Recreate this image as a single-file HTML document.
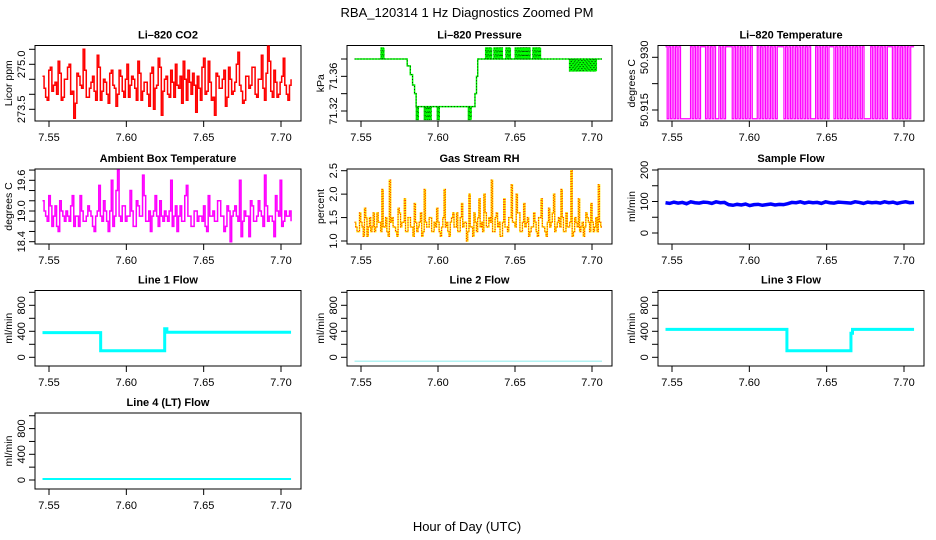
<!DOCTYPE html>
<html><head><meta charset="utf-8"><style>
html,body{margin:0;padding:0;background:#fff;}
svg{display:block;font-family:"Liberation Sans",sans-serif;}
</style></head><body>
<svg id="chart" width="936" height="540" viewBox="0 0 936 540">
<rect width="936" height="540" fill="#fff"/>
<text x="467" y="17" font-size="13" text-anchor="middle">RBA_120314  1 Hz Diagnostics Zoomed PM</text>
<text x="467" y="531" font-size="13" text-anchor="middle">Hour of Day (UTC)</text>
</svg>
<script>
// ---- data ----
const timeRange = [7.5458, 7.7065];
const xTicks = [7.55, 7.60, 7.65, 7.70];
const xTickLabels = ["7.55", "7.60", "7.65", "7.70"];

const co2ValuesA = [274.6,273.9,274.8,274.1,274.4,275.1,273.8,274.5,274.9,274.0,273.2,274.7,274.3,275.5,273.9,274.2,274.6,273.8,274.9,274.1,274.4,273.7,274.8,274.2,274.0,274.6,273.9,275.0,274.3,274.5,273.8,274.7,274.1,274.4,273.6,274.9,274.2,275.2,273.3,274.5,274.0,274.8,273.9,274.3,274.6,275.1,273.8,274.4,274.7,273.4,274.2,274.9,274.0,275.1,273.8,273.3,274.6,274.2,274.8,273.9,274.5,274.1,275.0,274.3,273.7,274.6,274.2,274.9,274.0,274.5,275.3,273.8,275.6,274.1,274.8,273.9,274.4,275.2,274.0,274.3];
const co2ValuesB = [274.2,273.8,274.9,274.3,274.0,274.7,273.9,274.5,275.0,274.1,273.7,274.6,274.2,274.8,273.9,274.4,274.1,275.3,273.8,274.5,274.0,274.7,274.3,273.6,274.8,274.1,274.5,273.9,274.6,274.2,275.1,273.8,274.4,274.0,274.7,273.5,274.3,274.9,274.1,274.6,273.9,274.4,275.0,274.2,273.7,274.5,274.8,274.0,274.3,274.6,273.8,275.2,274.1,274.4,273.9,274.7,274.2,274.5,273.6,274.9,274.0,274.4,275.4,274.1,273.8,274.6,274.3,274.9,273.9,274.5,274.2,274.7,275.1,273.9,274.4,274.0,274.6,274.3,273.8,274.5];

const pressureTimes = [7.5458,7.5800,7.5820,7.5835,7.5848,7.5858,7.6225,7.6240,7.6250,7.6258,7.7065];
const pressureValues = [71.38,71.372,71.362,71.35,71.34,71.325,71.325,71.34,71.36,71.38,71.38];
const pressureBlipStart = [7.5629,7.5858,7.5910,7.5994,7.6196,7.6308,7.6362,7.6440,7.6500,7.6615,7.6853];
const pressureBlipEnd   = [7.5651,7.5875,7.5960,7.6013,7.6218,7.6350,7.6420,7.6475,7.6600,7.6672,7.7033];
const pressureBlipLevel = [71.393,71.31,71.31,71.31,71.31,71.393,71.393,71.393,71.393,71.393,71.366];

const tempLevels = [50.9125, 50.933];
const tempState = [1,0,1,0,1,0,1,0,1,0,0,0,0,0,0,1,0,1,0,1,0,1,1,1,0,1,0,1,0,1,0,0,1,0,1,0,1,1,1,1,0,1,0,1,0,1,0,1,0,1,0,1,0,0,0,1,0,1,0,1,0,1,0,1,0,1,0,1,1,1,1,0,1,0,1,0,1,0,1,0,1,0,1,0,1,0,1,0,0,0,1,0,1,0,1,0,1,0,1,1,1,0,1,0,1,0,1,0,1,0,1,0,1,0,1,0,1,0,1,0,0,0,0,1,0,1,0,1,0,1,0,1,0,1,1,1,0,1,0,1,0,1,0,1,0,1,0,1,1,1];

const ambientValuesA = [19.2,18.9,19.3,18.7,19.1,18.6,19.0,18.8,18.9,19.1,18.7,18.9,19.3,18.8,18.9,19.0,18.7,18.9,19.5,18.8,19.0,18.6,19.6,18.9,19.8,18.8,19.1,18.9,19.4,18.7,19.2,18.9,19.7,18.8,19.0,18.9,19.3,18.7,18.9,19.0,18.8,19.6,18.9,18.6,19.1,18.8,19.5,18.9,18.7,19.0,18.9,18.8,18.7,19.3,18.9,18.8,19.2,18.9,18.6,19.1,18.4,19.0,18.9,19.6,18.8,18.9,18.5,19.1,18.8,19.2,18.9,19.7,18.8,18.9,18.5,19.0,19.6,18.8,18.9,19.0];
const ambientValuesB = [19.0,18.8,19.1,18.9,18.7,19.2,18.9,19.0,18.8,19.3,18.9,18.7,19.0,18.8,19.1,18.9,18.6,19.0,18.9,19.2,18.8,19.0,18.7,19.4,18.9,19.1,18.8,18.9,19.0,18.7,19.1,18.9,19.3,18.8,18.6,19.0,18.9,19.2,18.8,18.9,19.0,18.7,19.1,18.9,18.8,19.3,18.9,18.7,19.0,18.8,18.9,19.1,18.6,18.9,19.0,18.8,19.2,18.9,18.7,19.0,18.9,19.1,18.8,18.5,19.0,18.9,19.2,18.8,18.9,19.0,18.7,19.1,18.9,18.8,19.3,18.9,18.7,19.0,18.9,18.8];

const rhValuesA = [1.4,1.2,1.6,1.3,1.7,1.1,1.5,1.3,1.2,1.6,1.4,2.1,1.3,1.2,2.3,1.5,1.3,1.1,1.6,1.4,1.9,1.2,1.5,1.3,1.8,1.2,1.4,1.1,2.1,1.3,1.5,1.2,1.4,1.7,1.2,1.3,2.1,1.4,1.1,1.5,1.3,1.6,1.2,1.8,1.4,1.0,2.0,1.3,1.6,1.2,1.9,1.4,2.0,1.3,1.5,2.3,1.2,1.6,1.4,1.1,1.9,1.3,1.5,2.2,1.4,2.0,1.6,1.2,1.8,1.4,1.1,1.3,1.6,1.2,1.5,1.9,1.3,1.1,1.7,1.4,2.0,1.3,1.5,2.1,1.2,1.6,1.3,2.5,1.2,1.4,1.9,1.3,1.1,1.6,1.4,1.8,1.2,1.5,2.2,1.3];
const rhValuesB = [1.3,1.2,1.4,1.1,1.5,1.3,1.2,1.6,1.3,1.4,1.2,1.3,1.5,1.1,1.4,1.3,1.2,1.7,1.3,1.4,1.2,1.5,1.3,1.1,1.4,1.3,1.6,1.2,1.4,1.3,1.5,1.2,1.3,1.4,1.1,1.5,1.3,1.2,1.4,1.6,1.3,1.2,1.5,1.3,1.4,1.2,1.3,1.1,1.4,1.5,1.3,1.2,1.6,1.3,1.4,1.2,1.5,1.3,1.1,1.4,1.3,1.2,1.5,1.4,1.3,1.6,1.2,1.4,1.3,1.5,1.2,1.3,1.4,1.1,1.5,1.3,1.2,1.4,1.3,1.6,1.2,1.4,1.3,1.5,1.2,1.3,1.4,1.1,1.5,1.3,1.2,1.4,1.3,1.5,1.2,1.4,1.3,1.2,1.4,1.3];

const sampleFlowValues = [96,94,98,95,97,93,99,96,95,98,97,94,99,96,97,90,88,91,89,92,87,90,91,88,90,92,89,91,90,93,97,96,99,95,98,96,97,94,99,96,95,98,97,96,95,99,97,94,98,96,97,95,99,96,98,94,97,99,96,97];

const line1Times = [7.5458,7.5834,7.5834,7.6248,7.6248,7.6262,7.6262,7.7065];
const line1Values = [380,380,100,100,440,440,385,385];
const line2Times = [7.5458,7.7065];
const line2Values = [-60,-60];
const line3Times = [7.5458,7.6243,7.6243,7.6657,7.6657,7.6667,7.6667,7.7065];
const line3Values = [430,430,100,100,370,370,430,430];
const line4Times = [7.5458,7.7065];
const line4Values = [15,15];

function interleave(a,b){const r=[];for(let i=0;i<a.length;i++){r.push(a[i]);if(i<b.length)r.push(b[i]);}return r;}
const co2Values = interleave(co2ValuesA, co2ValuesB);
const ambientValues = interleave(ambientValuesA, ambientValuesB);
const rhValues = interleave(rhValuesA, rhValuesB);

// ---- layout ----
const svg = document.getElementById('chart');
const NS = 'http://www.w3.org/2000/svg';
const cols = [[35,301],[347,612],[658,924]];
const rows = [[45.5,121],[169,244],[290.5,366],[413,489]];
function mk(tag, attrs, parent){const e=document.createElementNS(NS,tag);for(const k in attrs)e.setAttribute(k,attrs[k]);(parent||svg).appendChild(e);return e;}
function xScale(col){const x55=col[0]+14;const k=(col[1]-20-x55)/0.15;return t=>x55+(t-7.55)*k;}
function yScale(v1,p1,v2,p2){return v=>p1+(v-v1)*(p2-p1)/(v2-v1);}
function evenTimes(n){const a=[];for(let i=0;i<n;i++)a.push(timeRange[0]+(timeRange[1]-timeRange[0])*i/(n-1));return a;}

function panel(name,title,ylab,ci,ri,ys,yt,ylabels){
  const col=cols[ci],row=rows[ri];
  const g=mk('g',{});
  
  
  const x=xScale(col);
  const box=mk('rect',{x:col[0],y:row[0],width:col[1]-col[0],height:row[1]-row[0],fill:'none',stroke:'#000','stroke-width':1},g);
  
  
  const tt=mk('text',{x:(col[0]+col[1])/2,y:row[0]-7,'font-size':11,'font-weight':'bold','text-anchor':'middle'},g);
  tt.textContent=title;
  
  
  const yl=mk('text',{x:0,y:0,'font-size':10.5,'text-anchor':'middle',transform:`translate(${col[0]-23},${(row[0]+row[1])/2}) rotate(-90)`},g);
  yl.textContent=ylab;
  
  
  const xa=mk('g',{},g);
  
  
  xTicks.forEach((t,i)=>{
    const px=x(t);
    mk('line',{x1:px,x2:px,y1:row[1],y2:row[1]+6,stroke:'#000'},xa);
    const l=mk('text',{x:px,y:row[1]+20,'font-size':11,'text-anchor':'middle'},xa);
    l.textContent=xTickLabels[i];
    
    
  });
  const ya=mk('g',{},g);
  
  
  yt.forEach(v=>{const py=ys(v);mk('line',{x1:col[0]-6,x2:col[0],y1:py,y2:py,stroke:'#000'},ya);});
  ylabels.forEach(([v,s])=>{
    const l=mk('text',{x:0,y:0,'font-size':11,'text-anchor':'middle',transform:`translate(${col[0]-10},${ys(v)}) rotate(-90)`},ya);
    l.textContent=s;
    
    
  });
  const clip='clip-'+name;
  const cp=mk('clipPath',{id:clip},g);mk('rect',{x:col[0],y:row[0],width:col[1]-col[0],height:row[1]-row[0]},cp);
  const dg=mk('g',{'clip-path':`url(#${clip})`},g);
  return {x,y:ys,g:dg};
}
function linePath(xs,vs,p,step){let d='';for(let i=0;i<xs.length;i++){const X=p.x(xs[i]).toFixed(2),Y=p.y(vs[i]).toFixed(2);if(i===0)d+=`M${X},${Y}`;else{if(step)d+=`H${X}`;d+=`L${X},${Y}`;}}return d;}
function series(p,name,xs,vs,color,w,step,dash){
  const a={d:linePath(xs,vs,p,step),fill:'none',stroke:color,'stroke-width':w,'stroke-linejoin':'miter'};
  if(dash)a['stroke-dasharray']=dash;
  const e=mk('path',a,p.g);
  
  
  return e;
}

// CO2
let p=panel('co2','Li\u2013820 CO2','Licor ppm',0,0,yScale(273.5,109.3,275.5,49.3),[273.5,274,274.5,275,275.5],[[273.5,'273.5'],[275.0,'275.0']]);
series(p,'co2-line',evenTimes(co2Values.length),co2Values,'#ff0000',1.5,true);

// Pressure
p=panel('pressure','Li\u2013820 Pressure','kPa',1,0,yScale(71.32,111,71.38,59),[71.32,71.34,71.36,71.38],[[71.32,'71.32'],[71.36,'71.36']]);
function blipPath(p,t0,t1,base,lvl){let d='';const x0=p.x(t0),x1=p.x(t1);const yb=p.y(base),yl=p.y(lvl);let up=true;for(let X=x0;X<=x1;X+=0.8){d+=(d?'L':'M')+X.toFixed(2)+','+(up?yb:yl).toFixed(2)+'L'+X.toFixed(2)+','+(up?yl:yb).toFixed(2);up=!up;}return d;}
function baseAt(t){let v=pressureValues[0];for(let i=0;i<pressureTimes.length;i++)if(pressureTimes[i]<=t)v=pressureValues[i];return v;}
let pd='';pressureBlipStart.forEach((s,i)=>{pd+=blipPath(p,s,pressureBlipEnd[i],baseAt(s),pressureBlipLevel[i]);});
const pb=mk('path',{d:pd,fill:'none',stroke:'#00ff00','stroke-width':1},p.g);


series(p,'pressure-line',pressureTimes,pressureValues,'#00ff00',1.5,true);
series(p,'pressure-points',pressureTimes,pressureValues,'#000',0.8,true,'1 2');
const pb2=mk('path',{d:pd,fill:'none',stroke:'#000','stroke-width':0.5,'stroke-dasharray':'1 3'},p.g);



// Temperature
p=panel('temperature','Li\u2013820 Temperature','degrees C',2,0,yScale(50.915,110,50.930,57.3),[50.915,50.9225,50.930],[[50.915,'50.915'],[50.930,'50.930']]);
series(p,'temperature-line',evenTimes(tempState.length),tempState.map(s=>tempLevels[s]),'#ff00ff',1.2,true);

// Ambient
p=panel('ambient','Ambient Box Temperature','degrees C',0,1,yScale(18.4,241.7,19.6,180.3),[18.4,18.6,18.8,19.0,19.2,19.4,19.6,19.8],[[18.4,'18.4'],[19.0,'19.0'],[19.6,'19.6']]);
series(p,'ambient-line',evenTimes(ambientValues.length),ambientValues,'#ff00ff',1.5,true);

// RH
p=panel('rh','Gas Stream RH','percent',1,1,yScale(1.0,241,2.5,170.7),[1.0,1.5,2.0,2.5],[[1.0,'1.0'],[1.5,'1.5'],[2.0,'2.0'],[2.5,'2.5']]);
series(p,'rh-line',evenTimes(rhValues.length),rhValues,'#ffee00',1.5,true);
series(p,'rh-points',evenTimes(rhValues.length),rhValues,'#ff2200',1.1,true,'1 1.5');

// Sample flow
p=panel('sample-flow','Sample Flow','ml/min',2,1,yScale(0,233,200,170),[0,50,100,150,200],[[0,'0'],[100,'100'],[200,'200']]);
series(p,'sample-flow-line',evenTimes(sampleFlowValues.length),sampleFlowValues,'#0000ff',3.5,false);

// Line flows
const flowTicks=[0,200,400,600,800,1000];
const flowLabels=[[0,'0'],[400,'400'],[800,'800']];
p=panel('line1-flow','Line 1 Flow','ml/min',0,2,yScale(0,357.3,800,305.3),flowTicks,flowLabels);
series(p,'line1-flow-line',line1Times,line1Values,'#00ffff',3,false);
p=panel('line2-flow','Line 2 Flow','ml/min',1,2,yScale(0,357.3,800,305.3),flowTicks,flowLabels);
series(p,'line2-flow-line',line2Times,line2Values,'#9ee',1.2,false);
p=panel('line3-flow','Line 3 Flow','ml/min',2,2,yScale(0,357.3,800,305.3),flowTicks,flowLabels);
series(p,'line3-flow-line',line3Times,line3Values,'#00ffff',3,false);
p=panel('line4-flow','Line 4 (LT) Flow','ml/min',0,3,yScale(0,480,800,428.6),flowTicks,flowLabels);
series(p,'line4-flow-line',line4Times,line4Values,'#00ffff',2,false);
</script>
</body></html>
